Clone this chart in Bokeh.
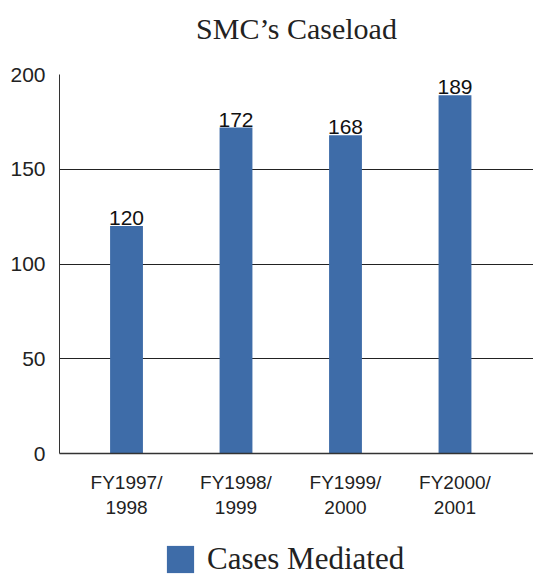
from bokeh.plotting import figure
from bokeh.layouts import column
from bokeh.models import FixedTicker, Legend, LegendItem, Range1d, ColumnDataSource, LabelSet, Label
from bokeh.core.properties import value
from bokeh.embed import file_html
from bokeh.resources import INLINE

title_text = "SMC\u2019s Caseload"
categories = ["FY1997/\n1998", "FY1998/\n1999", "FY1999/\n2000", "FY2000/\n2001"]
cases_mediated = [120, 172, 168, 189]
y_ticks = [0, 50, 100, 150, 200]
series_name = "Cases Mediated"
bar_color = "#3e6ca8"

xs = list(range(len(categories)))
src = ColumnDataSource(data=dict(x=xs, top=cases_mediated, label=[str(v) for v in cases_mediated]))


def strip(height):
    f = figure(width=533, height=height, output_backend="svg", toolbar_location=None,
               x_range=Range1d(100, 101), y_range=Range1d(1000, 1001),
               x_axis_location=None, y_axis_location=None,
               min_border_left=59, min_border_right=0, min_border_top=0, min_border_bottom=0)
    f.grid.visible = False
    f.outline_line_color = None
    return f


# title strip
hdr = strip(58)
hdr.add_layout(Label(x=237, y=30, x_units="screen", y_units="screen", text=title_text,
                     text_align="center", text_baseline="alphabetic",
                     text_font="Liberation Serif", text_font_size="30px", text_color="#222222"))

# main chart
p = figure(width=533, height=462, output_backend="svg", toolbar_location=None,
           x_range=Range1d(-0.612, 3.717), y_range=Range1d(0, 200),
           min_border_left=59, min_border_right=0, min_border_top=16, min_border_bottom=61)

bars = p.vbar(x="x", top="top", width=0.3, source=src, color=bar_color, line_color=None)

labels = LabelSet(x="x", y="top", text="label", source=src, text_align="center",
                  text_baseline="bottom", y_offset=1, text_font=value("Liberation Sans"),
                  text_font_size=value("21px"), text_color="#111111")
p.add_layout(labels)

p.outline_line_color = None
p.xgrid.grid_line_color = None
p.ygrid.grid_line_color = "#222222"
p.ygrid.grid_line_width = 1
p.ygrid.ticker = FixedTicker(ticks=y_ticks)

p.yaxis.ticker = FixedTicker(ticks=y_ticks)
p.yaxis.major_tick_line_color = None
p.yaxis.minor_tick_line_color = None
p.yaxis.major_label_standoff = 8
p.yaxis.major_label_text_font = "Liberation Sans"
p.yaxis.major_label_text_font_size = "21px"
p.yaxis.major_label_text_color = "#222222"
p.yaxis.axis_line_color = "#333333"

p.xaxis.ticker = FixedTicker(ticks=xs)
p.xaxis.major_label_overrides = {i: c for i, c in zip(xs, categories)}
p.xaxis.major_tick_line_color = None
p.xaxis.minor_tick_line_color = None
p.xaxis.major_label_standoff = 12
p.xaxis.major_label_text_font = "Liberation Sans"
p.xaxis.major_label_text_font_size = "19px"
p.xaxis.major_label_text_color = "#222222"
p.xaxis.axis_line_color = "#333333"
p.xaxis.axis_line_width = 1.5

# legend strip (swatch renderer uses the same data, kept out of its view)
lg = strip(57)
swatch = lg.vbar(x="x", top="top", width=0.3, source=src, color=bar_color, line_color=None)
legend = Legend(items=[LegendItem(label=series_name, renderers=[swatch])],
                location=(104, 0), orientation="horizontal",
                glyph_width=34, glyph_height=34, label_text_font="Liberation Serif",
                label_text_font_size="31px", label_text_color="#222222",
                border_line_color=None, background_fill_alpha=0,
                padding=0, margin=0, label_standoff=10)
lg.add_layout(legend)

layout = column(hdr, p, lg, spacing=0)
open("out.html", "w").write(file_html(layout, INLINE))
